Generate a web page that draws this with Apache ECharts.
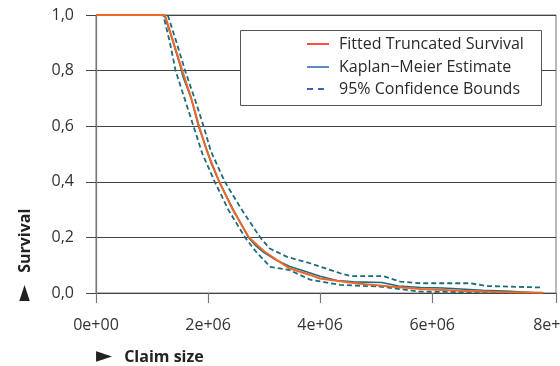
<!DOCTYPE html>
<html>
<head>
<meta charset="utf-8">
<script src="https://cdn.jsdelivr.net/npm/echarts@6/dist/echarts.min.js"></script>
<style>
html,body{margin:0;padding:0;background:#fff;}
#chart{width:560px;height:366px;}
</style>
</head>
<body>
<div id="chart"></div>
<script>
// Claim size in millions, survival probability
const fittedX = [0, 1.23, 1.4, 1.54, 1.7, 1.84, 1.98, 2.2, 2.44, 2.73, 3.0, 3.23, 3.46, 3.82, 4.0, 4.66, 5.25, 5.79, 6.5, 7.2, 7.98];
const fittedY = [1, 1, 0.89, 0.8, 0.7, 0.6, 0.51, 0.4, 0.3, 0.2, 0.15, 0.118, 0.088, 0.065, 0.052, 0.034, 0.023, 0.014, 0.008, 0.004, 0.001];

const kmX = [0, 1.22, 1.35, 1.5, 1.55, 1.7, 1.83, 1.97, 2.05, 2.2, 2.45, 2.72, 2.85, 3.0, 3.2, 3.46, 3.7, 4.0, 4.3, 4.6, 5.1, 5.4, 5.8, 6.2, 6.9, 7.4, 7.9];
const kmY = [1, 1, 0.92, 0.82, 0.78, 0.7, 0.6, 0.52, 0.47, 0.4, 0.3, 0.2, 0.17, 0.145, 0.12, 0.095, 0.08, 0.06, 0.045, 0.04, 0.038, 0.025, 0.02, 0.018, 0.01, 0.006, 0];

const upperX = [0, 1.28, 1.44, 1.59, 1.76, 1.92, 2.05, 2.3, 2.6, 2.93, 3.1, 3.41, 3.82, 4.36, 4.54, 5.12, 5.43, 5.79, 6.68, 6.98, 7.93];
const upperY = [1, 1, 0.9, 0.8, 0.7, 0.6, 0.51, 0.4, 0.3, 0.2, 0.16, 0.13, 0.107, 0.071, 0.061, 0.061, 0.041, 0.035, 0.035, 0.025, 0.02];

const lowerX = [0, 1.2, 1.32, 1.42, 1.58, 1.74, 1.9, 2.12, 2.36, 2.66, 2.85, 3.11, 3.46, 3.82, 4.36, 5.07, 5.79, 7.95];
const lowerY = [1, 1, 0.9, 0.8, 0.7, 0.6, 0.5, 0.4, 0.3, 0.2, 0.15, 0.094, 0.082, 0.048, 0.029, 0.023, 0.005, 0];

const xTicks = [0, 2e6, 4e6, 6e6, 8e6];
const yTicks = [0, 0.2, 0.4, 0.6, 0.8, 1.0];

const legendNames = ['Fitted Truncated Survival', 'Kaplan\u2212Meier Estimate', '95% Confidence Bounds'];
const xTitle = 'Claim size';
const yTitle = 'Survival';
const arrow = '\u25BA';

function pairs(xs, ys){ return xs.map((x,i)=>[x*1e6, ys[i]]); }

const FONT = '"Open Sans", sans-serif';
const teal = '#1d6c79';
const orange = '#f0662a';

const chart = echarts.init(document.getElementById('chart'), null, {renderer:'canvas'});

function xfmt(v){
  if (v === 0) return '0e+00';
  const e = Math.floor(Math.log10(v) + 1e-9);
  const m = Math.round(v / Math.pow(10, e));
  return m + 'e+' + String(e).padStart(2, '0');
}

const lineStyleCI = {color: teal, width: 1.8, type: [5, 3]};
const titleRich = {
  a: {fontFamily: '"DejaVu Sans"', fontSize: 21, fill: '#222', padding: [0, 12, 0, 0]},
  t: {fontFamily: FONT, fontWeight: 'bold', fontSize: 16, fill: '#222'}
};

chart.setOption({
  animation: false,
  grid: {left: 96, right: 4, top: 15, bottom: 73, show: true, borderColor: '#777', borderWidth: 1, outerBoundsMode: 'none', containLabel: false},
  xAxis: {
    type: 'value', min: 0, max: 8.21e6, interval: 2e6,
    axisLine: {show: false},
    axisTick: {show: true, inside: false, length: 10, lineStyle: {color: '#777', width: 1.2}},
    axisLabel: {formatter: xfmt, fontFamily: FONT, fontSize: 16, color: '#333', margin: 24, showMaxLabel: true},
    splitLine: {show: false}
  },
  yAxis: {
    type: 'value', min: 0, max: 1, interval: 0.2,
    axisLine: {show: true, lineStyle: {color: '#777', width: 1.2}},
    axisTick: {show: true, inside: false, length: 10, lineStyle: {color: '#444'}},
    axisLabel: {formatter: v => v.toFixed(1).replace('.', ','), fontFamily: FONT, fontSize: 16, color: '#333', margin: 22},
    splitLine: {show: true, lineStyle: {color: '#444', width: 1}}
  },
  series: [
    {name: legendNames[1], type: 'line', data: pairs(kmX, kmY), symbol: 'none', lineStyle: {color: teal, width: 1.6}, z: 2},
    {name: legendNames[2], type: 'line', data: pairs(upperX, upperY), symbol: 'none', lineStyle: lineStyleCI, z: 3},
    {name: legendNames[2] + ' lower', type: 'line', data: pairs(lowerX, lowerY), symbol: 'none', lineStyle: lineStyleCI, z: 3},
    {name: legendNames[0], type: 'line', data: pairs(fittedX, fittedY), symbol: 'none', lineStyle: {color: orange, width: 2}, z: 4}
  ],
  graphic: [
    {type: 'rect', shape: {x: 240.5, y: 30.5, width: 301, height: 75}, style: {fill: '#fff', stroke: '#555', lineWidth: 1}, z: 100},
    {type: 'line', shape: {x1: 307, y1: 44, x2: 329, y2: 44}, style: {stroke: '#ff3b30', lineWidth: 1.8}, z: 101},
    {type: 'line', shape: {x1: 307, y1: 67, x2: 329, y2: 67}, style: {stroke: '#4f7cc2', lineWidth: 1.8}, z: 101},
    {type: 'line', shape: {x1: 307, y1: 89, x2: 329, y2: 89}, style: {stroke: '#3b63b3', lineWidth: 1.8, lineDash: [6, 5]}, z: 101},
    {type: 'text', x: 339, y: 44, style: {text: legendNames[0], font: '16px ' + FONT, fill: '#2a2a2a', textVerticalAlign: 'middle'}, z: 101},
    {type: 'text', x: 339, y: 67, style: {text: legendNames[1], font: '16px ' + FONT, fill: '#2a2a2a', textVerticalAlign: 'middle'}, z: 101},
    {type: 'text', x: 339, y: 89, style: {text: legendNames[2], font: '16px ' + FONT, fill: '#2a2a2a', textVerticalAlign: 'middle'}, z: 101},
    {type: 'text', x: 96, y: 357, style: {text: '{a|' + arrow + '}{t|' + xTitle + '}', rich: titleRich, verticalAlign: 'middle'}, z: 101},
    {type: 'text', x: 25, y: 301, rotation: Math.PI / 2, style: {text: '{a|' + arrow + '}{t|' + yTitle + '}', rich: titleRich, verticalAlign: 'middle'}, z: 101}
  ]
});
</script>
</body>
</html>
